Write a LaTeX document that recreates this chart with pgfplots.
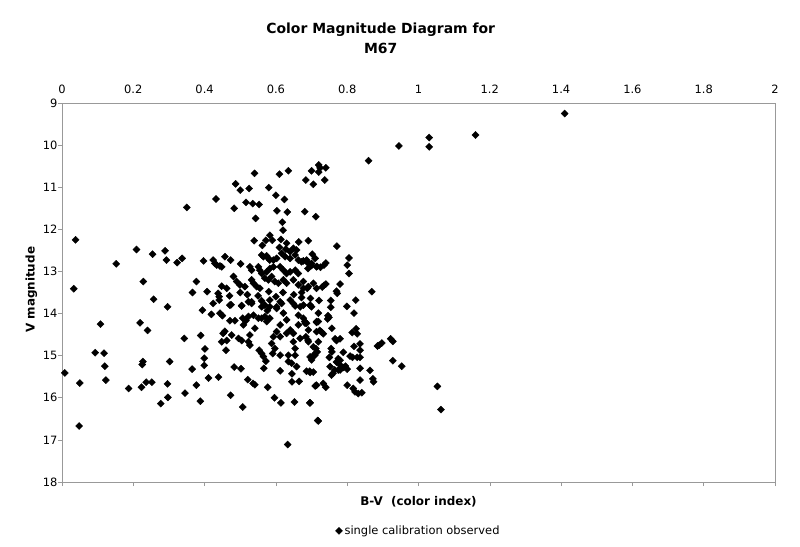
\documentclass[border=0pt]{standalone}
\usepackage{pgfplots}
\pgfplotsset{compat=1.18}
\usepackage{fontspec}
\setmainfont{DejaVu Sans}
\begin{document}
\begin{tikzpicture}[x=1bp,y=1bp]
\useasboundingbox (-62,-65) rectangle (738,482);
\begin{axis}[
  at={(0,0)}, anchor=south west,
  scale only axis, width=713bp, height=379bp,
  xmin=0, xmax=2, ymin=9, ymax=18,
  y dir=reverse,
  xtick distance=0.2, ytick distance=1,
  xtick pos=left,
  xticklabel pos=right,
  ytick pos=left,
  tick align=outside,
  major tick length=4bp,
  axis line style={draw=gray!80},
  tick style={draw=gray!80, line width=0.6pt},
  every tick label/.append style={font=\fontsize{11.5}{13}\selectfont},
  /pgf/number format/assume math mode=true,
  xticklabel style={yshift=2bp},
  yticklabel style={xshift=3bp},
  legend style={at={(0.5,-0.129)}, anchor=center, draw=none, fill=none,
    font=\fontsize{11.5}{13}\selectfont, legend cell align=left},
  clip=false,
]
\addplot[only marks, mark=square*, mark options={rotate=45}, mark size=2.5bp, black] table {
x y
1.41 9.25
1.16 9.76
1.03 9.82
1.03 10.04
0.945 10.02
0.86 10.37
0.72 10.47
0.724 10.54
0.74 10.54
0.70 10.61
0.72 10.64
0.635 10.61
0.61 10.69
0.54 10.67
0.684 10.83
0.737 10.83
0.705 10.93
0.487 10.92
0.50 11.07
0.525 11.03
0.58 11.01
0.60 11.19
0.624 11.29
0.432 11.28
0.35 11.48
0.483 11.50
0.516 11.36
0.535 11.39
0.553 11.41
0.603 11.56
0.632 11.59
0.681 11.58
0.712 11.70
0.543 11.74
0.618 11.83
0.62 12.02
0.583 12.14
0.572 12.26
0.539 12.27
0.562 12.38
0.59 12.26
0.614 12.24
0.63 12.33
0.664 12.30
0.691 12.27
0.771 12.40
0.61 12.43
0.038 12.25
0.209 12.48
0.254 12.59
0.289 12.51
0.293 12.73
0.152 12.82
0.323 12.79
0.337 12.69
0.397 12.75
0.033 13.41
0.228 13.24
0.377 13.24
0.366 13.50
0.407 13.48
0.257 13.66
0.296 13.84
0.394 13.92
0.419 14.02
0.108 14.25
0.219 14.22
0.240 14.40
0.343 14.59
0.389 14.52
0.401 14.84
0.093 14.93
0.118 14.94
0.120 15.25
0.227 15.14
0.225 15.21
0.302 15.14
0.399 15.06
0.399 15.23
0.365 15.32
0.411 15.53
0.008 15.41
0.050 15.65
0.123 15.58
0.187 15.78
0.223 15.75
0.236 15.63
0.252 15.63
0.296 15.67
0.377 15.70
0.345 15.89
0.297 15.99
0.277 16.14
0.388 16.08
0.048 16.67
0.439 15.51
0.473 15.94
0.507 16.22
0.483 15.27
0.502 15.31
0.521 15.57
0.536 15.66
0.541 15.69
0.577 15.75
0.596 16.00
0.614 16.12
0.652 16.10
0.695 16.12
0.717 16.54
0.633 17.11
0.566 15.30
0.612 15.36
0.645 15.62
0.665 15.61
0.645 15.43
0.658 15.26
0.686 15.37
0.695 15.37
0.712 15.71
0.805 12.68
0.80 12.85
0.805 13.05
0.702 12.59
0.677 12.75
0.69 12.80
0.70 12.86
0.69 12.93
0.715 12.88
0.725 12.90
0.735 12.85
0.74 12.80
0.677 13.24
0.688 13.40
0.735 13.33
0.74 13.30
0.73 13.37
0.78 13.30
0.77 13.47
0.772 13.52
0.869 13.48
0.672 13.50
0.672 13.62
0.697 13.64
0.721 13.69
0.754 13.69
0.754 13.85
0.696 13.81
0.824 13.68
0.799 13.83
0.819 13.99
0.746 14.05
0.749 14.09
0.745 14.13
0.677 14.11
0.681 14.19
0.686 14.23
0.714 14.21
0.719 14.19
0.723 14.40
0.728 14.44
0.733 14.48
0.757 14.35
0.814 14.45
0.828 14.48
0.825 14.36
0.684 14.55
0.69 14.63
0.719 14.67
0.766 14.60
0.77 14.64
0.78 14.60
0.836 14.72
0.836 14.87
0.819 14.78
0.789 14.92
0.755 14.83
0.757 14.91
0.885 14.77
0.712 14.83
0.716 14.91
0.709 14.99
0.705 15.01
0.696 15.03
0.808 15.01
0.815 15.04
0.828 15.04
0.836 15.04
0.775 15.07
0.77 15.15
0.78 15.11
0.750 15.04
0.752 15.26
0.78 15.22
0.79 15.28
0.795 15.25
0.80 15.32
0.78 15.34
0.775 15.34
0.765 15.34
0.76 15.42
0.756 15.46
0.836 15.30
0.864 15.35
0.872 15.55
0.874 15.62
0.836 15.58
0.696 15.40
0.705 15.39
0.71 15.72
0.714 15.70
0.733 15.66
0.74 15.75
0.80 15.70
0.817 15.78
0.822 15.86
0.831 15.90
0.696 16.12
0.719 16.55
0.841 15.88
0.89 14.75
0.897 14.70
0.922 14.60
0.928 14.66
0.928 15.12
0.953 15.25
1.053 15.73
1.063 16.28
0.441 13.68
0.474 13.79
0.504 13.81
0.532 13.72
0.560 13.70
0.583 13.68
0.443 13.99
0.450 14.05
0.471 14.17
0.485 14.17
0.507 14.11
0.516 14.17
0.523 14.07
0.509 14.27
0.457 14.42
0.452 14.47
0.476 14.51
0.448 14.67
0.462 14.64
0.495 14.59
0.504 14.64
0.527 14.51
0.523 14.67
0.527 14.75
0.460 14.87
0.553 14.87
0.560 14.95
0.565 15.02
0.572 15.13
0.537 14.04
0.551 14.11
0.560 14.11
0.574 14.19
0.583 14.11
0.593 14.55
0.602 14.43
0.588 14.71
0.597 14.83
0.591 14.95
0.612 14.55
0.630 14.47
0.640 14.39
0.649 14.47
0.612 14.99
0.635 14.99
0.654 14.99
0.635 15.14
0.644 15.18
0.654 14.83
0.649 14.67
0.668 14.59
0.682 14.23
0.691 14.39
0.691 14.67
0.705 14.79
0.710 14.95
0.700 15.10
0.714 14.43
0.714 14.19
0.719 13.99
0.649 13.76
0.668 13.84
0.663 14.04
0.696 13.80
0.640 13.68
0.612 13.72
0.602 13.88
0.621 13.99
0.583 13.84
0.576 13.93
0.569 14.07
0.541 14.35
0.612 14.27
0.630 14.15
0.663 14.27
0.628 12.47
0.640 12.53
0.649 12.45
0.658 12.49
0.616 12.57
0.626 12.65
0.640 12.69
0.654 12.61
0.663 12.73
0.672 12.77
0.686 12.73
0.700 12.81
0.710 12.69
0.714 12.89
0.560 12.61
0.565 12.65
0.574 12.63
0.579 12.69
0.583 12.73
0.593 12.73
0.602 12.69
0.424 12.73
0.429 12.81
0.434 12.85
0.443 12.87
0.448 12.89
0.457 12.65
0.473 12.73
0.501 12.82
0.527 12.89
0.532 12.97
0.551 12.89
0.555 12.97
0.560 13.05
0.574 13.01
0.583 12.93
0.593 12.89
0.612 12.89
0.621 12.97
0.630 13.05
0.640 13.01
0.654 12.97
0.663 13.05
0.481 13.12
0.490 13.24
0.499 13.32
0.513 13.36
0.462 13.40
0.448 13.35
0.532 13.20
0.537 13.28
0.546 13.36
0.555 13.40
0.569 13.16
0.579 13.20
0.588 13.12
0.597 13.24
0.607 13.28
0.621 13.20
0.630 13.28
0.649 13.20
0.663 13.32
0.677 13.40
0.691 13.36
0.705 13.28
0.714 13.40
0.438 13.52
0.441 13.60
0.471 13.80
0.504 13.82
0.523 13.72
0.532 13.76
0.560 13.84
0.569 13.80
0.602 13.84
0.616 13.76
0.654 13.82
0.677 13.80
0.700 13.84
0.424 13.76
0.50 13.50
0.52 13.55
0.58 13.48
0.62 13.50
0.65 13.55
0.47 13.58
0.55 13.58
0.60 13.60
};
\addlegendentry{single calibration observed}
\node[font=\bfseries\fontsize{14}{19.5}\selectfont, align=center] at (rel axis cs:0.447,1.171) {Color Magnitude Diagram for\\M67};
\node[font=\bfseries\fontsize{12}{14}\selectfont] at (rel axis cs:0.5,-0.053) {B-V\ \ (color index)};
\node[font=\bfseries\fontsize{12}{14}\selectfont, rotate=90] at (rel axis cs:-0.043,0.507) {V magnitude};
\end{axis}
\end{tikzpicture}
\end{document}
